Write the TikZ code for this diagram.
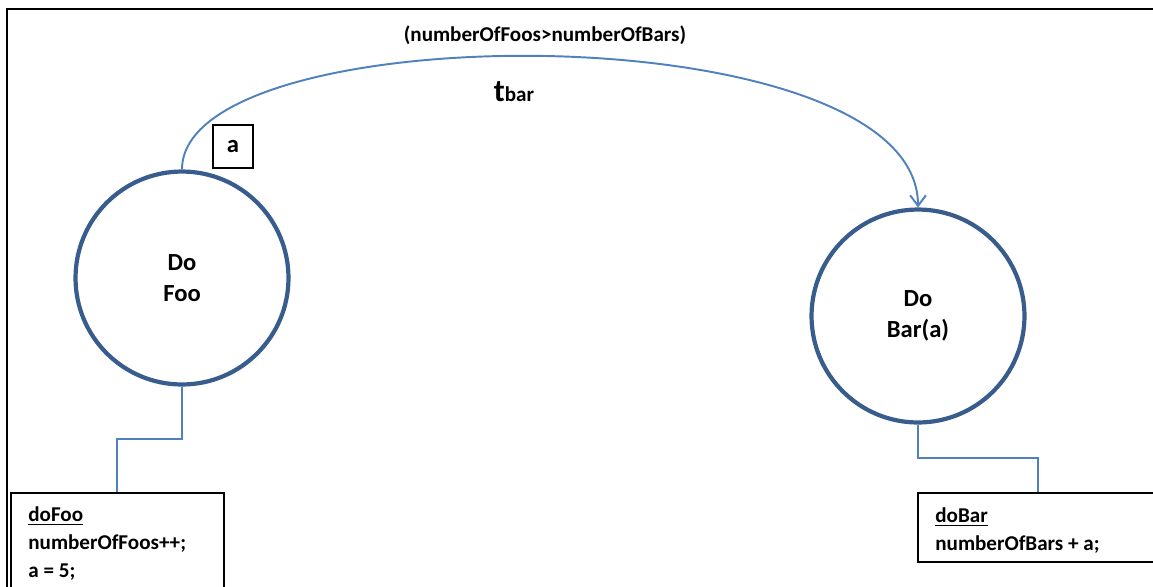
\documentclass[tikz,border=0pt]{standalone}
\usepackage{fontspec}
\setmainfont{Carlito}
\usetikzlibrary{arrows.meta,calc}
\definecolor{statecol}{RGB}{56,93,140}
\definecolor{linkcol}{RGB}{79,129,189}

\begin{document}
\begin{tikzpicture}[x=0.02cm, y=-0.02cm,
    state/.style={draw=statecol, line width=2.4pt, circle, minimum size=4.26cm, align=center, font=\fontsize{14}{17.5}\selectfont\bfseries},
    link/.style={draw=linkcol, line width=1.1pt},
    action/.style={draw, line width=1pt, anchor=north west, inner xsep=0.35cm, font=\fontsize{12}{16}\selectfont\bfseries},
    lbl/.style={font=\fontsize{12}{14}\selectfont\bfseries}]
    \useasboundingbox (0, 0) rectangle (1153, 586);
    \clip (0, 0) rectangle (1153, 586);

    % Frame
    \draw [line width=1.1pt] (7, 600) -- (7, 9) -- (1160, 9);

    % States
    \node [state] (foo) at (182, 278) {Do\\Foo};
    \node [state] (bar) at (918, 316) {Do\\Bar(a)};

    % Transition
    \draw [link, -{Straight Barb[length=6pt, width=9pt]}] (foo.north) .. controls +(0, -156) and +(0, -196) .. (bar.north);
    \node [lbl] (cond) at (545, 35) {(numberOfFoos>numberOfBars)};
    \node [lbl] (tbar) at (514, 92) {{\fontsize{18}{18}\selectfont t}bar};
    \node [draw, line width=0.8pt, minimum width=0.8cm, minimum height=0.86cm, font=\fontsize{14}{14}\selectfont\bfseries] (param) at (233, 146.5) {a};

    % Actions
    \node [action, inner ysep=8pt] (foobox) at (10, 492) {\parbox[t][3cm][t]{3.56cm}{\underline{doFoo}\\numberOfFoos++;\\a = 5;}};
    \node [action, inner ysep=8.5pt] (barbox) at (917, 492) {\parbox[t][0.78cm][t]{4.1cm}{\underline{doBar}\\numberOfBars + a;}};

    % Links to actions
    \draw [link] (foo.south) |- ($(foo.south)!0.5!(foobox.north)$) -| (foobox.north);
    \draw [link] (bar.south) |- ($(bar.south)!0.5!(barbox.north)$) -| (barbox.north);
\end{tikzpicture}
\end{document}
